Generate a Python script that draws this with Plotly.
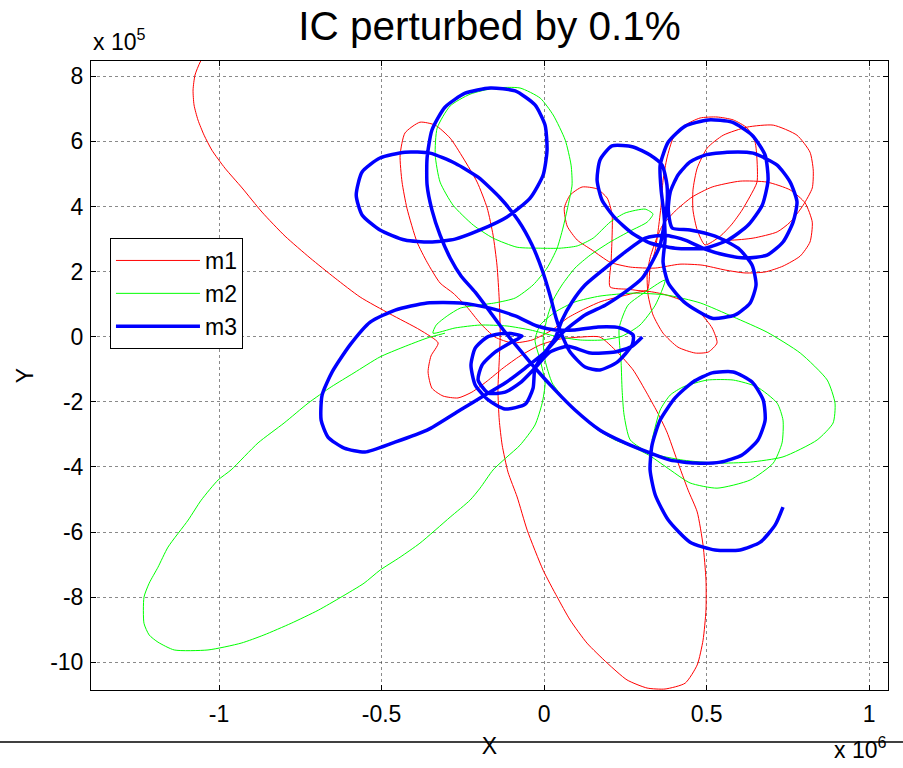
import plotly.graph_objects as go

# Trajectories. X in units of 1e6, Y in units of 1e5.
m1_x = [-1.034, -1.058, -1.074, -1.080, -1.077, -1.065, -1.046, -1.022, -0.982, -0.929, -0.868, -0.797, -0.720, -0.643, -0.566, -0.474, -0.382, -0.326,
        -0.348, -0.357, -0.345, -0.311, -0.265, -0.222, -0.175, -0.126, -0.074, -0.012, 0.049, 0.111, 0.172,
        0.225, 0.274, 0.311, 0.348, 0.378, 0.409, 0.443, 0.471, 0.489, 0.498, 0.498, 0.489, 0.471, 0.434, 0.372, 0.317, 0.255, 0.194, 0.132, 0.080, 0.040, -0.003, -0.052, -0.083, -0.111, -0.129, -0.138, -0.142, -0.138, -0.135,
        -0.138, -0.145, -0.157, -0.175, -0.206, -0.249, -0.289, -0.335, -0.382, -0.428, -0.443, -0.437, -0.422, -0.391, -0.360, -0.320, -0.280, -0.237, -0.197, -0.151, -0.098, -0.037, 0.025, 0.071, 0.117, 0.172, 0.240, 0.311,
        0.366, 0.428, 0.480, 0.517, 0.532, 0.505, 0.465, 0.412, 0.366, 0.335, 0.320, 0.317,
        0.326, 0.342, 0.363, 0.403, 0.455, 0.517, 0.603, 0.686, 0.757, 0.803, 0.825, 0.818, 0.788, 0.735, 0.680, 0.618, 0.557, 0.486, 0.418,
        0.342, 0.265, 0.203, 0.148, 0.102, 0.071, 0.062, 0.080, 0.117, 0.163, 0.194, 0.209, 0.209, 0.206, 0.203, 0.258, 0.317,
        0.326, 0.342, 0.351, 0.360, 0.366, 0.378, 0.397, 0.434, 0.480, 0.532, 0.582, 0.625, 0.649, 0.655, 0.655, 0.634, 0.609, 0.578, 0.542, 0.495,
        0.471, 0.458, 0.458, 0.471, 0.502, 0.551, 0.625, 0.705, 0.778, 0.818, 0.828, 0.825, 0.797, 0.757, 0.717, 0.643, 0.572, 0.517]
m1_y = [8.81, 8.44, 8.04, 7.58, 7.12, 6.66, 6.19, 5.73, 5.18, 4.57, 3.83, 3.09, 2.42, 1.80, 1.22, 0.70, 0.21, -0.19,
        -0.59, -1.08, -1.58, -1.82, -1.88, -1.70, -1.36, -0.96, -0.59, -0.25, -0.07, -0.01, -0.01,
        -0.47, -1.02, -1.64, -2.31, -2.93, -3.79, -4.71, -5.38, -6.40, -7.47, -8.39, -9.32, -10.08, -10.64, -10.82, -10.79, -10.54, -10.02, -9.41, -8.70, -7.99, -7.17, -5.94, -4.92, -4.16, -3.33, -2.56, -1.64, -0.72, 0.05,
        1.13, 2.20, 3.12, 3.95, 4.75, 5.49, 6.10, 6.50, 6.59, 6.26, 5.58, 4.75, 3.95, 2.91, 2.29, 1.65, 1.34, 0.91, 0.42, -0.01, -0.19, -0.10, 0.21, 0.57, 0.82, 1.07, 1.25, 1.40,
        1.31, 1.10, 0.73, 0.27, -0.19, -0.47, -0.50, -0.32, 0.11, 0.67, 1.28, 1.89,
        2.42, 2.91, 3.40, 3.86, 4.29, 4.60, 4.78, 4.75, 4.51, 4.11, 3.52, 2.91, 2.48, 2.17, 1.99, 1.96, 2.05, 2.20, 2.23,
        2.11, 2.14, 2.29, 2.66, 2.97, 3.40, 3.95, 4.35, 4.60, 4.54, 4.26, 3.77, 3.03, 2.29, 1.53, 1.46, 1.43,
        2.11, 2.66, 3.28, 4.04, 4.81, 5.49, 6.10, 6.50, 6.72, 6.75, 6.66, 6.41, 5.98, 5.43, 4.75, 4.32, 3.89, 3.46, 3.09, 2.82,
        3.28, 3.89, 4.51, 5.18, 5.80, 6.19, 6.44, 6.50, 6.19, 5.67, 5.12, 4.57, 4.04, 3.52, 3.22, 3.03, 2.97, 3.09]

m2_x = [0.332, 0.357, 0.388, 0.428, 0.502, 0.582, 0.655, 0.717, 0.735, 0.732, 0.705, 0.634, 0.532, 0.449, 0.388, 0.326, 0.274, 0.218, 0.166, 0.117, 0.065, 0.025, 0.003, -0.003, 0.009, 0.028, 0.055, 0.095, 0.142, 0.203, 0.265, 0.317, 0.335,
        0.311, 0.249, 0.203, 0.151, 0.102, 0.049, -0.012, -0.083, -0.157, -0.218, -0.280, -0.320, -0.335, -0.329, -0.289, -0.228, -0.151, -0.074, -0.012, 0.028, 0.065, 0.083, 0.086, 0.074, 0.058, 0.040, 0.009, -0.034,
        -0.089, -0.151, -0.203, -0.258, -0.298, -0.332, -0.342, -0.274, -0.197, -0.114, -0.043, 0.034, 0.111, 0.178, 0.240, 0.295, 0.342, 0.372,
        0.320, 0.258, 0.231, 0.237, 0.240, 0.246, 0.265, 0.326, 0.428, 0.532, 0.634, 0.735, 0.840, 0.889, 0.895, 0.871, 0.788, 0.686, 0.582, 0.480, 0.378, 0.274, 0.172, 0.095, 0.034, -0.012,
        -0.028, -0.012, 0.003, -0.006, -0.028, -0.074, -0.114, -0.157, -0.197, -0.228, -0.289, -0.382, -0.443, -0.505, -0.554, -0.625, -0.695, -0.778, -0.862, -0.932, -1.034, -1.138, -1.188, -1.215, -1.231,
        -1.231, -1.215, -1.188, -1.157, -1.095, -1.055, -1.003, -0.963, -0.880, -0.800, -0.726, -0.655, -0.585, -0.505, -0.434, -0.360, -0.305]
m2_y = [-3.17, -2.25, -1.79, -1.54, -1.33, -1.33, -1.54, -2.04, -2.56, -3.26, -3.88, -4.40, -4.65, -4.49, -4.09, -3.66, -3.39, -3.17, -2.87, -2.47, -1.94, -1.42, -0.72, -0.10, 0.57, 1.13, 1.59, 2.11, 2.51, 2.91, 3.25, 3.52, 3.77,
        3.92, 3.80, 3.52, 3.03, 2.79, 2.72, 2.72, 2.75, 3.03, 3.43, 4.04, 4.75, 5.58, 6.41, 7.09, 7.45, 7.64, 7.64, 7.33, 6.81, 6.04, 5.27, 4.66, 4.04, 3.34, 2.72, 2.11, 1.59,
        1.19, 1.04, 0.97, 0.88, 0.64, 0.36, 0.11, 0.27, 0.36, 0.33, 0.21, 0.02, -0.10, -0.10, 0.02, 0.36, 0.97, 1.74,
        1.43, 0.97, 0.27, -0.81, -1.64, -2.40, -3.17, -3.57, -3.79, -3.88, -3.85, -3.69, -3.17, -2.65, -2.04, -1.33, -0.50, 0.14, 0.61, 1.04, 1.28, 1.34, 1.25, 1.07, 0.76, 0.36,
        -0.10, -0.72, -1.42, -2.04, -2.71, -3.33, -3.69, -4.09, -4.65, -5.02, -5.54, -6.34, -6.77, -7.17, -7.57, -8.00, -8.40, -8.80, -9.16, -9.41, -9.62, -9.62, -9.38, -9.16, -8.80,
        -8.00, -7.57, -7.08, -6.46, -5.63, -5.02, -4.40, -4.09, -3.26, -2.65, -2.04, -1.54, -1.11, -0.62, -0.32, -0.04, 0.11]

m3_x = [0.735, 0.711, 0.665, 0.603, 0.526, 0.449, 0.382, 0.342, 0.326, 0.332, 0.357, 0.403, 0.458, 0.517, 0.582, 0.640, 0.674, 0.680, 0.658, 0.609, 0.542, 0.465, 0.388, 0.326,
        0.249, 0.172, 0.095, 0.034, -0.028, -0.074, -0.120, -0.166, -0.212, -0.255, -0.289, -0.320, -0.345, -0.360, -0.360, -0.345, -0.305, -0.243, -0.166, -0.089, -0.028, 0.003, 0.009, -0.003,
        -0.043, -0.114, -0.197, -0.274, -0.351, -0.428, -0.505, -0.560, -0.578, -0.560, -0.505, -0.428, -0.351, -0.274, -0.203, -0.135, -0.080, -0.037, -0.006, 0.018, 0.037, 0.055,
        0.080, 0.126, 0.172, 0.225, 0.271, 0.274, 0.234, 0.166, 0.095, 0.034, -0.022, -0.089, -0.166, -0.258, -0.360, -0.458, -0.535, -0.597, -0.652, -0.683, -0.686, -0.665, -0.615, -0.551,
        -0.465, -0.360, -0.258, -0.182, -0.120, -0.058, 0.003, 0.055, 0.126, 0.188, 0.249, 0.302, 0.332, 0.357, 0.369, 0.378, 0.378, 0.363, 0.326, 0.274, 0.209, 0.172, 0.163, 0.178, 0.218,
        0.271, 0.326, 0.403, 0.495, 0.566, 0.628, 0.671, 0.689, 0.680, 0.640, 0.578, 0.505, 0.434, 0.382, 0.357, 0.360, 0.369, 0.372, 0.366, 0.382, 0.434, 0.517, 0.588, 0.634, 0.652,
        0.640, 0.597, 0.526, 0.449, 0.394, 0.382, 0.388, 0.412, 0.449, 0.495, 0.563, 0.643, 0.717, 0.757, 0.778, 0.766, 0.735, 0.686, 0.618, 0.557, 0.495, 0.434, 0.372, 0.311,
        0.249, 0.188, 0.126, 0.086, 0.055, 0.034, 0.003, -0.028, -0.034, -0.058, -0.120, -0.172, -0.212, -0.225, -0.212, -0.175, -0.120, -0.068, -0.105, -0.151, -0.191, -0.203,
        -0.172, -0.120, -0.074, -0.028, 0.018, 0.074, 0.142, 0.218, 0.271, 0.302]
m3_y = [-5.23, -5.78, -6.31, -6.55, -6.55, -6.31, -5.63, -4.86, -4.09, -3.33, -2.56, -1.88, -1.39, -1.11, -1.08, -1.39, -1.94, -2.56, -3.17, -3.63, -3.85, -3.88, -3.79, -3.57,
        -3.26, -2.87, -2.25, -1.64, -0.96, -0.41, 0.14, 0.76, 1.37, 1.86, 2.42, 3.12, 3.89, 4.66, 5.49, 6.35, 7.05, 7.48, 7.64, 7.55, 7.12, 6.50, 5.73, 4.97,
        4.26, 3.68, 3.28, 3.00, 2.91, 2.97, 3.28, 3.74, 4.35, 5.06, 5.49, 5.67, 5.64, 5.33, 4.90, 4.26, 3.58, 2.82, 2.05, 1.28, 0.57, 0.05,
        -0.47, -0.93, -1.02, -0.78, -0.25, 0.05, 0.27, 0.30, 0.21, 0.21, 0.33, 0.64, 0.88, 1.04, 1.04, 0.82, 0.45, -0.25, -1.08, -1.79, -2.56, -3.08, -3.42, -3.54,
        -3.26, -2.87, -2.25, -1.79, -1.42, -0.96, -0.47, 0.11, 0.67, 0.97, 1.37, 1.80, 2.29, 2.82, 3.43, 4.04, 4.66, 5.27, 5.58, 5.83, 5.86, 5.43, 4.81, 4.20, 3.65,
        3.18, 2.88, 2.72, 2.72, 2.97, 3.43, 4.04, 4.81, 5.58, 6.19, 6.59, 6.66, 6.47, 5.98, 5.27, 4.51, 3.74, 2.97, 2.29, 1.65, 1.04, 0.57, 0.67, 1.04, 1.59,
        2.20, 2.72, 3.09, 3.28, 3.34, 3.89, 4.44, 4.97, 5.37, 5.58, 5.67, 5.64, 5.27, 4.75, 4.14, 3.52, 2.91, 2.51, 2.42, 2.51, 2.69, 2.97, 3.12, 3.03,
        2.60, 2.11, 1.59, 1.07, 0.51, -0.04, -0.47, -0.96, -1.58, -2.07, -2.22, -1.94, -1.48, -0.87, -0.35, -0.01, 0.11, 0.02, -0.19, -0.47, -0.87, -1.33,
        -1.73, -1.70, -1.42, -0.96, -0.47, -0.29, -0.50, -0.47, -0.29, -0.01]

x_ticks = [-1, -0.5, 0, 0.5, 1]
x_tick_labels = ["-1", "-0.5", "0", "0.5", "1"]
y_ticks = [-10, -8, -6, -4, -2, 0, 2, 4, 6, 8]
y_tick_labels = ["-10", "-8", "-6", "-4", "-2", "0", "2", "4", "6", "8"]

FONT = "Liberation Sans, Arial, sans-serif"

fig = go.Figure()
fig.add_trace(go.Scatter(x=m1_x, y=m1_y, mode="lines", name="m1",
                         line=dict(color="#ff0000", width=1, shape="spline", smoothing=0.6)))
fig.add_trace(go.Scatter(x=m2_x, y=m2_y, mode="lines", name="m2",
                         line=dict(color="#00ff00", width=1, shape="spline", smoothing=0.6)))
fig.add_trace(go.Scatter(x=m3_x, y=m3_y, mode="lines", name="m3",
                         line=dict(color="#0000ff", width=3.5, shape="spline", smoothing=0.6)))

axis_common = dict(
    showline=True, linecolor="black", linewidth=1, mirror="ticks",
    ticks="inside", ticklen=5, tickcolor="black", tickwidth=1,
    showgrid=True, gridcolor="rgba(60,60,60,0.6)", griddash="dot", gridwidth=1,
    zeroline=False, tickfont=dict(family=FONT, size=23, color="black"),
)

fig.update_layout(
    width=903, height=768,
    margin=dict(l=91, r=15, t=61, b=78),
    paper_bgcolor="white", plot_bgcolor="white",
    font=dict(family=FONT, size=23, color="black"),
    title=dict(text="IC perturbed by 0.1%", x=0.5, xref="paper", xanchor="center",
               y=1 - 26 / 768, yref="container", yanchor="middle",
               font=dict(family=FONT, size=40.5, color="black")),
    xaxis=dict(range=[-1.394, 1.058], tickvals=x_ticks, ticktext=x_tick_labels,
               ticklabelstandoff=3,
               title=dict(text="X", standoff=12, font=dict(family=FONT, size=23)),
               **axis_common),
    yaxis=dict(range=[-10.85, 8.47], tickvals=y_ticks, ticktext=y_tick_labels,
               ticklabelstandoff=2,
               title=dict(text="Y", standoff=10, font=dict(family=FONT, size=23)),
               **axis_common),
    legend=dict(x=0.0238, y=0.7186, xanchor="left", yanchor="top",
                bgcolor="white", bordercolor="black", borderwidth=1,
                font=dict(family=FONT, size=23, color="black"),
                itemwidth=84, tracegroupgap=0),
    showlegend=True,
    annotations=[
        dict(text="x 10<sup>5</sup>", xref="paper", yref="paper", x=0.0, y=1.0334,
             xanchor="left", yanchor="middle", showarrow=False,
             font=dict(family=FONT, size=23, color="black")),
        dict(text="x 10<sup>6</sup>", xref="paper", yref="paper", x=0.9297, y=-0.0922,
             xanchor="left", yanchor="middle", showarrow=False,
             font=dict(family=FONT, size=23, color="black")),
    ],
    shapes=[
        dict(type="line", xref="paper", yref="paper", x0=-0.1142, x1=1.0188,
             y0=-0.0827, y1=-0.0827, line=dict(color="black", width=1.5)),
    ],
)

fig.write_html("out.html")
